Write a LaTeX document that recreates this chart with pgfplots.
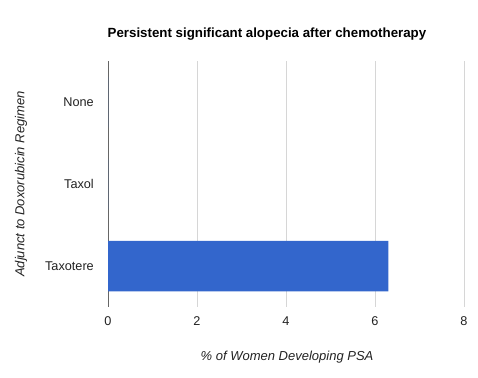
\documentclass[border=0pt]{standalone}
\usepackage{pgfplots}
\pgfplotsset{compat=1.18}
\usepackage{fontspec}
\setmainfont{Liberation Sans}
\definecolor{barblue}{HTML}{3366CC}
\definecolor{gridgray}{HTML}{D6D6D6}
\definecolor{basegray}{HTML}{666666}
\definecolor{txt}{HTML}{222222}
\begin{document}
\begin{tikzpicture}[x=1pt,y=1pt]
\useasboundingbox (0,0) rectangle (478,377);
\begin{axis}[
  at={(108pt,70pt)}, anchor=south west,
  scale only axis, width=356pt, height=246pt,
  xbar, bar width=50.5pt,
  xmin=0, xmax=8, ymin=-0.5, ymax=2.5, y dir=reverse,
  axis line style={draw=none},
  xtick={2,4,6,8}, extra x ticks={0},
  extra x tick style={grid style={basegray, line width=1pt}},
  xmajorgrids, grid style={gridgray, line width=1pt},
  major tick length=0pt,
  ytick={0,1,2}, yticklabels={None,Taxol,Taxotere},
  /pgf/number format/assume math mode=true,
  xticklabel style={font=\fontsize{12.7}{14}\selectfont, text=txt, anchor=north, inner sep=0pt, yshift=-9.7pt},
  yticklabel style={font=\fontsize{12.7}{14}\selectfont, text=txt, anchor=east, inner sep=0pt, xshift=-14pt},
  every axis title shift=0pt,
  title={Persistent significant alopecia after chemotherapy},
  title style={font=\bfseries\fontsize{13.3}{15}\selectfont, text=black, at={(axis description cs:0.4466,1.0935)}, anchor=base, inner sep=0pt, yshift=0pt},
  xlabel={\% of Women Developing PSA},
  xlabel style={font=\itshape\fontsize{13}{15}\selectfont, text=txt, at={(axis description cs:0.503,-0.2175)}, anchor=base, inner sep=0pt},
  ylabel={Adjunct to Doxorubicin Regimen},
  ylabel style={font=\itshape\fontsize{13}{15}\selectfont, text=txt, at={(axis description cs:-0.2346,0.5)}, anchor=base, rotate=0, inner sep=0pt},
  clip=false,
]
\addplot[fill=barblue, draw=none] coordinates {(0,0) (0,1) (6.3,2)};
\end{axis}
\end{tikzpicture}
\end{document}
